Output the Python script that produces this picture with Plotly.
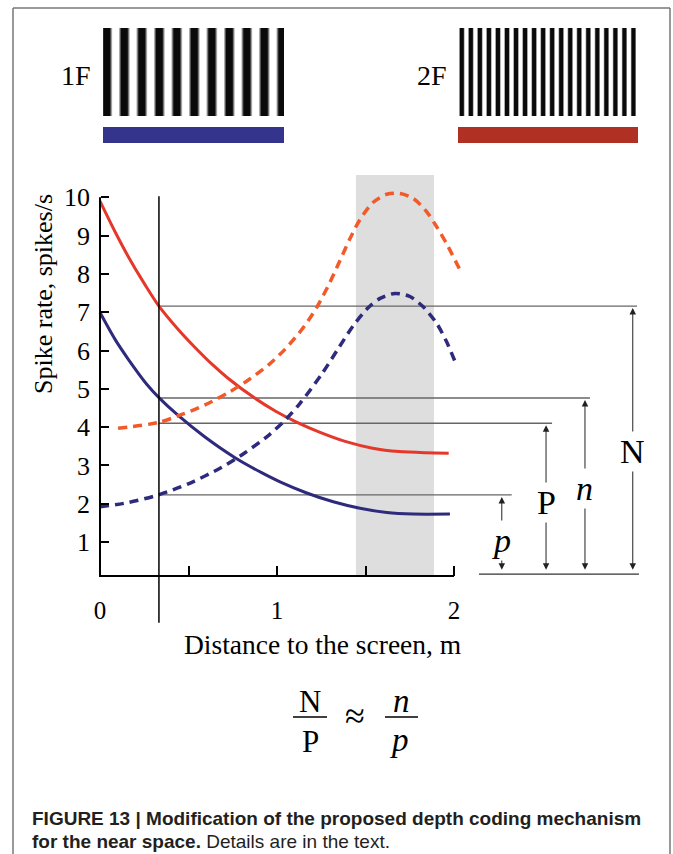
import numpy as np
import plotly.graph_objects as go

# ---------------- data ----------------
dist_red_solid = [0.0, 0.085, 0.16, 0.254, 0.333, 0.442, 0.537, 0.631, 0.725, 0.87, 0.99,
                  1.11, 1.24, 1.39, 1.54, 1.69, 1.84, 1.97]
rate_red_solid = [9.90, 9.10, 8.45, 7.72, 7.16, 6.55, 6.08, 5.65, 5.27, 4.77, 4.42,
                  4.13, 3.87, 3.62, 3.45, 3.36, 3.33, 3.32]

dist_blue_solid = [0.0, 0.085, 0.16, 0.264, 0.333, 0.44, 0.593, 0.763, 0.913, 1.017,
                   1.168, 1.318, 1.469, 1.62, 1.77, 1.977]
rate_blue_solid = [6.99, 6.29, 5.77, 5.12, 4.77, 4.31, 3.74, 3.20, 2.81, 2.57,
                   2.28, 2.05, 1.88, 1.77, 1.73, 1.73]

dist_red_dash = [0.102, 0.33, 0.462, 0.593, 0.725, 0.838, 0.951, 1.045, 1.149, 1.224, 1.299,
                 1.356, 1.412, 1.469, 1.544, 1.62, 1.695, 1.77, 1.846, 1.902, 1.959, 2.034]
rate_red_dash = [3.97, 4.12, 4.33, 4.58, 4.90, 5.23, 5.62, 6.03, 6.60, 7.12, 7.78,
                 8.35, 8.92, 9.42, 9.87, 10.08, 10.10, 9.97, 9.62, 9.23, 8.78, 8.10]

dist_blue_dash = [0.0, 0.16, 0.33, 0.499, 0.688, 0.819, 0.951, 1.045, 1.13, 1.255, 1.35,
                  1.431, 1.516, 1.582, 1.667, 1.751, 1.826, 1.902, 1.959, 2.006]
rate_blue_dash = [1.92, 2.03, 2.23, 2.52, 2.95, 3.33, 3.78, 4.18, 4.62, 5.40, 6.08,
                  6.65, 7.12, 7.36, 7.49, 7.41, 7.14, 6.71, 6.22, 5.71]

y_ticks = [1, 2, 3, 4, 5, 6, 7, 8, 9, 10]
x_ticks = [0, 0.5, 1, 1.5, 2]
x_tick_text = ["0", "", "1", "", "2"]

near_distance = 0.333            # vertical reference line
band_range = [1.446, 1.887]      # shaded screen zone
level_names = ["N", "n", "P", "p"]
level_values = [7.16, 4.76, 4.10, 2.23]
base_level = 0.16
axis_base = 0.11

grating_1f_stripes = 11
grating_2f_stripes = 20

# ---------------- layout geometry (pixels) ----------------
W, H = 673, 854
PX0, PXU = 100.0, 177.0     # pixel of x=0, pixels per metre
PY0, PYU = 580.3, 38.3      # pixel of rate=0, pixels per spike/s
x_range = [-PX0 / PXU, (W - PX0) / PXU]
y_range = [(PY0 - H) / PYU, PY0 / PYU]

level_x_end = [3.034, 2.768, 2.554, 2.326]
arrow_x = [3.01, 2.74, 2.52, 2.27]
label_y = [3.35, 2.41, 2.02, 1.05]
label_italic = [False, True, False, True]

SERIF = "Liberation Serif"
RED = "#E5372A"
RED_D = "#F25A2A"
BLUE = "#2E2A7C"
GREY = "#666666"

fig = go.Figure()

# curves
fig.add_trace(go.Scatter(x=dist_red_solid, y=rate_red_solid, mode="lines",
                         line=dict(color=RED, width=3, shape="spline", smoothing=0.8)))
fig.add_trace(go.Scatter(x=dist_blue_solid, y=rate_blue_solid, mode="lines",
                         line=dict(color=BLUE, width=3, shape="spline", smoothing=0.8)))
fig.add_trace(go.Scatter(x=dist_red_dash, y=rate_red_dash, mode="lines",
                         line=dict(color=RED_D, width=3.5, shape="spline", smoothing=0.8,
                                   dash="9px,6px")))
fig.add_trace(go.Scatter(x=dist_blue_dash, y=rate_blue_dash, mode="lines",
                         line=dict(color=BLUE, width=3.5, shape="spline", smoothing=0.8,
                                   dash="9px,6px")))

# axis lines
fig.add_trace(go.Scatter(x=[0, 0, x_ticks[-1]], y=[y_ticks[-1], axis_base, axis_base],
                         mode="lines", line=dict(color="black", width=2)))

shapes = []
# shaded band
shapes.append(dict(type="rect", xref="x", yref="y", x0=band_range[0], x1=band_range[1],
                   y0=axis_base, y1=10.58, fillcolor="#DEDEDE", line=dict(width=0), layer="below"))
# reference horizontal lines
for v, xe in zip(level_values, level_x_end):
    shapes.append(dict(type="line", xref="x", yref="y", x0=near_distance, x1=xe, y0=v, y1=v,
                       line=dict(color=GREY, width=1.3), layer="below"))
shapes.append(dict(type="line", xref="x", yref="y", x0=2.141, x1=3.045, y0=base_level, y1=base_level,
                   line=dict(color="#333333", width=1.3), layer="below"))
# vertical line
shapes.append(dict(type="line", xref="x", yref="y", x0=near_distance, x1=near_distance,
                   y0=-1.11, y1=10.03, line=dict(color="black", width=1.5)))

annotations = []
for v, xa in zip(level_values, arrow_x):
    annotations.append(dict(x=xa, y=v, ax=xa, ay=base_level, xref="x", yref="y", axref="x",
                            ayref="y", text="", showarrow=True, arrowhead=2, arrowside="end+start",
                            arrowsize=1.3, arrowwidth=1, arrowcolor="#222222", standoff=2,
                            startstandoff=3))
for name, xa, ly, it in zip(level_names, arrow_x, label_y, label_italic):
    txt = f"<i>{name}</i>" if it else name
    annotations.append(dict(x=xa, y=ly, xref="x", yref="y", text=txt, showarrow=False,
                            bgcolor="white", font=dict(family=SERIF, size=34, color="black"),
                            xanchor="center", yanchor="middle"))

# --------- decorations on a pixel axis pair ---------
def grating(x_left, x_right, n_stripes, first_c, last_c):
    xs = np.arange(x_left, x_right, 0.25) + 0.125
    period = (last_c - first_c) / (n_stripes - 1)
    g = 0.5 - 0.5 * np.cos(2 * np.pi * (xs - first_c) / period)
    g = np.clip((g - 0.5) * 2.0 + 0.5, 0, 1)
    return xs, g

for (xl, xr, n, c0, c1) in [(103, 284, grating_1f_stripes, 106.7, 281.7),
                            (459, 639, grating_2f_stripes, 461.7, 633.3)]:
    xs, g = grating(xl, xr, n, c0, c1)
    fig.add_trace(go.Heatmap(x0=xs[0], dx=0.25, y0=50, dy=44, z=[g, g], xaxis="x2", yaxis="y2",
                             colorscale=[[0, "#0a0a0a"], [1, "#ffffff"]], zmin=0, zmax=1,
                             showscale=False, hoverinfo="skip"))

def px(x0, y0, x1, y1, **kw):
    d = dict(xref="x2", yref="y2", x0=x0, y0=y0, x1=x1, y1=y1)
    d.update(kw)
    return d

shapes.append(px(103, 127, 284, 143, type="rect", fillcolor="#34348C", line=dict(width=0)))
shapes.append(px(458, 127, 638, 143, type="rect", fillcolor="#B03024", line=dict(width=0)))
# frame
shapes.append(px(13, 8, 13, 854, type="line", line=dict(color="#777777", width=1.5)))
shapes.append(px(13, 8, 670, 8, type="line", line=dict(color="#777777", width=1.5)))
shapes.append(px(670, 8, 670, 854, type="line", line=dict(color="#777777", width=1.5)))
# formula fraction bars
shapes.append(px(293, 717, 327, 717, type="line", line=dict(color="black", width=1.5)))
shapes.append(px(385, 717, 418, 717, type="line", line=dict(color="black", width=1.5)))

def ptext(x, y, text, size, family=SERIF, **kw):
    d = dict(x=x, y=y, xref="x2", yref="y2", text=text, showarrow=False,
             font=dict(family=family, size=size, color=kw.pop("color", "black")))
    d.update(kw)
    return d

annotations += [
    ptext(76, 75, "1F", 28),
    ptext(432, 75, "2F", 28),
    ptext(43, 294, "Spike rate, spikes/s", 26, textangle=-90),
    ptext(322, 644, "Distance to the screen, m", 27.5),
    ptext(310, 701, "N", 31),
    ptext(310, 741, "P", 31),
    ptext(355, 716, "≈", 36),
    ptext(401, 701, "<i>n</i>", 33),
    ptext(399, 740, "<i>p</i>", 33),
    ptext(30, 818, "<b>FIGURE 13 | Modification of the proposed depth coding mechanism</b>", 19,
          family="Liberation Sans", color="#231F20", xanchor="left"),
    ptext(30, 841, "<b>for the near space.</b> Details are in the text.", 19,
          family="Liberation Sans", color="#231F20", xanchor="left"),
]

fig.update_layout(
    width=W, height=H, margin=dict(l=0, r=0, t=0, b=0),
    paper_bgcolor="white", plot_bgcolor="white", showlegend=False,
    xaxis=dict(domain=[0, 1], range=x_range, showgrid=False, zeroline=False, showline=False,
               anchor="free", position=1 - 576 / H, tickvals=x_ticks, ticktext=x_tick_text,
               ticks="inside", ticklen=10, tickwidth=2, tickcolor="black",
               tickfont=dict(family=SERIF, size=25, color="black"), ticklabelstandoff=17),
    yaxis=dict(domain=[0, 1], range=y_range, showgrid=False, zeroline=False, showline=False,
               anchor="free", position=PX0 / W, tickvals=y_ticks,
               ticks="inside", ticklen=8, tickwidth=2, tickcolor="black",
               tickfont=dict(family=SERIF, size=26, color="black"), ticklabelstandoff=10),
    xaxis2=dict(range=[0, W], visible=False, overlaying="x", anchor="y2"),
    yaxis2=dict(range=[H, 0], visible=False, overlaying="y", anchor="x2"),
    shapes=shapes, annotations=annotations,
)

fig.write_html("out.html", config={"displayModeBar": False})
